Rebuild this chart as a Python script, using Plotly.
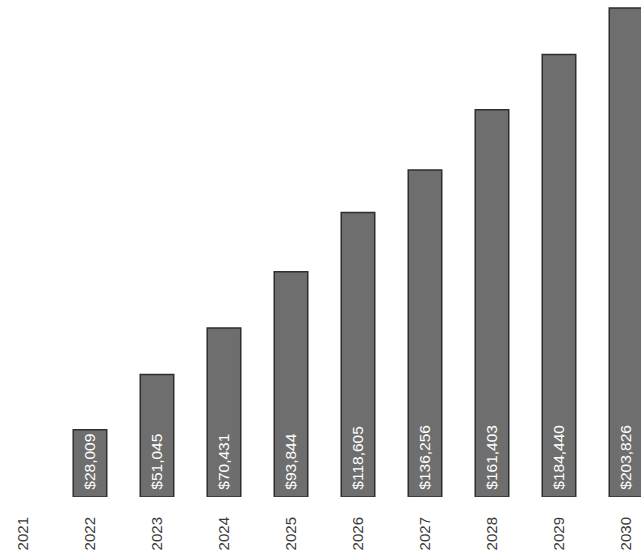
import plotly.graph_objects as go

years = ["2021", "2022", "2023", "2024", "2025", "2026", "2027", "2028", "2029", "2030"]
values = [None, 28009, 51045, 70431, 93844, 118605, 136256, 161403, 184440, 203826]
labels = ["" if v is None else "\u00a0${:,}".format(v) for v in values]

fig = go.Figure(go.Bar(
    x=years, y=values, text=labels,
    textposition="inside", insidetextanchor="start", textangle=-90,
    constraintext="none",
    textfont=dict(family="Liberation Sans, Arial", size=15.5, color="white"),
    marker=dict(color="#6e6e6e", line=dict(color="#2e2e2e", width=1.5)),
    width=0.5,
    cliponaxis=True,
))

fig.update_layout(
    width=641, height=557,
    margin=dict(l=0, r=0, t=0, b=60),
    paper_bgcolor="white", plot_bgcolor="white",
    showlegend=False,
    xaxis=dict(type="category", range=[-0.343, 9.224], tickangle=-90,
               showgrid=False, zeroline=False, showline=False,
               ticklabelstandoff=16,
               tickfont=dict(family="Liberation Sans, Arial", size=15, color="#3a3a3a")),
    yaxis=dict(range=[0, 207170], visible=False, showgrid=False, zeroline=False),
)

fig.write_html("out.html")
